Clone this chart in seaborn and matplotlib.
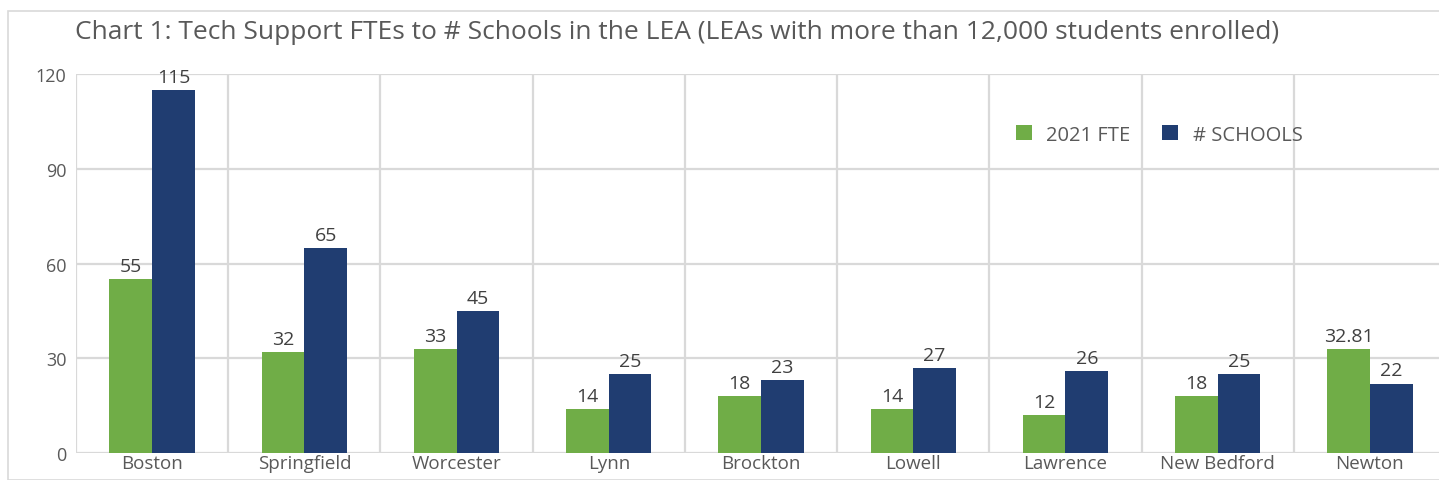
import matplotlib
matplotlib.use("Agg")
import matplotlib.pyplot as plt
import seaborn as sns
import pandas as pd
from matplotlib.patches import Rectangle

categories = ["Boston", "Springfield", "Worcester", "Lynn", "Brockton", "Lowell",
              "Lawrence", "New Bedford", "Newton"]
fte_2021 = [55, 32, 33, 14, 18, 14, 12, 18, 32.81]
schools = [115, 65, 45, 25, 23, 27, 26, 25, 22]
series_names = ["2021 FTE", "# SCHOOLS"]
yticks = [0, 30, 60, 90, 120]
title = "Chart 1: Tech Support FTEs to # Schools in the LEA (LEAs with more than 12,000 students enrolled)"

df = pd.DataFrame({
    "LEA": categories * 2,
    "value": fte_2021 + schools,
    "series": [series_names[0]] * len(categories) + [series_names[1]] * len(categories),
})

sns.set_style("white")
plt.rcParams["font.family"] = ["Open Sans", "DejaVu Sans"]

fig = plt.figure(figsize=(14.39, 4.81), dpi=100)
ax = fig.add_axes([76 / 1439, 27 / 481, 1370 / 1439, 379 / 481])

palette = {series_names[0]: "#70AD47", series_names[1]: "#203D71"}
sns.barplot(data=df, x="LEA", y="value", hue="series", palette=palette,
            width=0.56, gap=0, ax=ax, saturation=1, legend=True, zorder=3,
            linewidth=0, edgecolor="none")

for cont in ax.containers:
    labels = [("%g" % v) for v in cont.datavalues]
    ax.bar_label(cont, labels=labels, padding=3, fontsize=14, color="#404040")

ax.set_ylim(0, 120)
ax.set_yticks(yticks)
ax.set_xlim(-0.5, len(categories) - 0.5)
ax.set_xticks([i - 0.5 for i in range(len(categories) + 1)], minor=True)
ax.grid(axis="y", which="major", color="#D9D9D9", linewidth=1.6, zorder=0)
ax.grid(axis="x", which="minor", color="#D9D9D9", linewidth=1.6, zorder=0)
ax.grid(axis="x", which="major", visible=False)
ax.set_axisbelow(True)
for s in ax.spines.values():
    s.set_visible(False)
ax.tick_params(axis="both", which="both", length=0)
ax.tick_params(axis="y", labelsize=13, labelcolor="#595959", pad=7)
ax.tick_params(axis="x", labelsize=13.5, labelcolor="#595959", pad=1)
ax.set_xlabel("")
ax.set_ylabel("")

leg = ax.legend(loc="center left", bbox_to_anchor=(0.68, 0.84), ncol=2, frameon=False,
                fontsize=14.5, handlelength=0.8, handleheight=0.8, columnspacing=1.6,
                handletextpad=0.7, borderaxespad=0)
for t in leg.get_texts():
    t.set_color("#595959")

fig.text(75 / 1439, 1 - 33 / 481, title, fontsize=19, color="#595959", va="center", ha="left")

fig.patches.append(Rectangle((8 / 1439, 0), 1.2, 1 - 12 / 481, transform=fig.transFigure,
                             fill=False, edgecolor="#D9D9D9", linewidth=1.2))

fig.savefig("out.png", dpi=100)
